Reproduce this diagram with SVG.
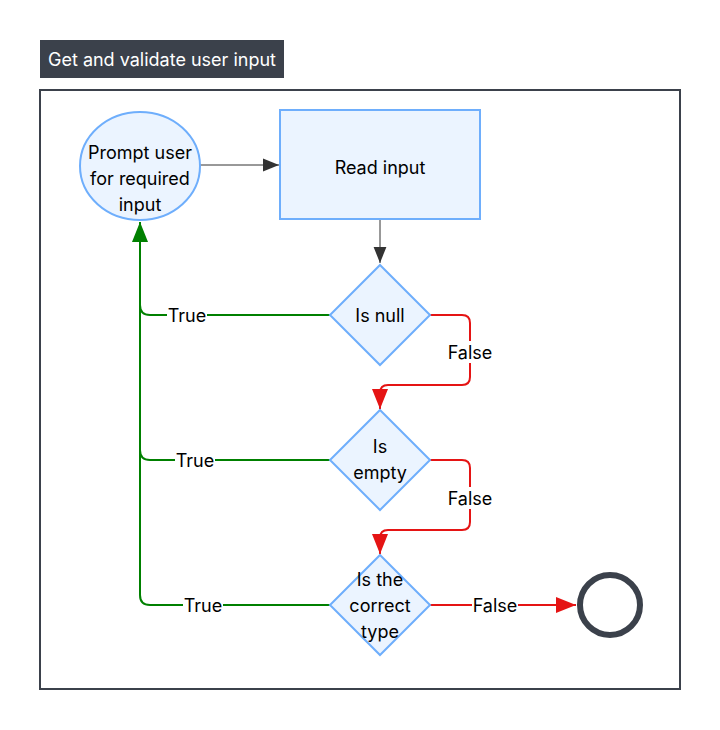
<svg xmlns="http://www.w3.org/2000/svg" width="720" height="730" viewBox="0 0 720 730">
<style>
text{font-family:Inter,"Noto Sans","Liberation Sans",sans-serif;font-size:18px;fill:#000;text-anchor:middle;dominant-baseline:central}
.node{fill:#ebf4ff;stroke:#6eaefc;stroke-width:2}
.g{fill:none;stroke:#008000;stroke-width:2}
.r{fill:none;stroke:#e51414;stroke-width:2}
.k{fill:none;stroke:#333;stroke-width:1}
.lb{fill:#fff}
</style>
<defs>
<marker id="ak" viewBox="0 0 10 10" refX="10" refY="5" markerWidth="16" markerHeight="16" markerUnits="userSpaceOnUse" orient="auto"><path d="M0,1 L10,5 L0,9 z" fill="#333"/></marker>
<marker id="ag" viewBox="0 0 10 10" refX="10" refY="5" markerWidth="10" markerHeight="10" markerUnits="strokeWidth" orient="auto"><path d="M0,1 L10,5 L0,9 z" fill="#008000"/></marker>
<marker id="ar" viewBox="0 0 10 10" refX="10" refY="5" markerWidth="10" markerHeight="10" markerUnits="strokeWidth" orient="auto"><path d="M0,1 L10,5 L0,9 z" fill="#e51414"/></marker>
</defs>
<rect width="720" height="730" fill="#fff"/>
<g id="title">
<rect x="40" y="40" width="244" height="38" fill="#3b414b"/>
<text x="162" y="59" style="fill:#fff">Get and validate user input</text>
</g>
<g id="container">
<rect x="40" y="90" width="640" height="599" fill="none" stroke="#3b414b" stroke-width="2"/>
</g>
<g id="connectors">
<path class="k" d="M200,165 L279,165" marker-end="url(#ak)"/>
<path class="k" d="M380,220 L380,263" marker-end="url(#ak)"/>
<path class="g" d="M330,315 L150,315 Q140,315 140,305"/>
<path class="g" d="M330,460 L150,460 Q140,460 140,450"/>
<path class="g" d="M330,605 L150,605 Q140,605 140,595 L140,222" marker-end="url(#ag)"/>
<path class="r" d="M430,315 L462,315 Q470,315 470,323 L470,377 Q470,385 462,385 L388,385 Q380,385 380,393 L380,409" marker-end="url(#ar)"/>
<path class="r" d="M430,460 L462,460 Q470,460 470,468 L470,522 Q470,530 462,530 L388,530 Q380,530 380,538 L380,554" marker-end="url(#ar)"/>
<path class="r" d="M430,605 L576,605" marker-end="url(#ar)"/>
<rect class="lb" x="167" y="304" width="40" height="22"/>
<text x="187" y="315">True</text>
<rect class="lb" x="175" y="449" width="40" height="22"/>
<text x="195" y="460">True</text>
<rect class="lb" x="183" y="594" width="40" height="22"/>
<text x="203" y="605">True</text>
<rect class="lb" x="447" y="341" width="46" height="22"/>
<text x="470" y="352">False</text>
<rect class="lb" x="447" y="487" width="46" height="22"/>
<text x="470" y="498">False</text>
<rect class="lb" x="472" y="594" width="46" height="22"/>
<text x="495" y="605">False</text>
</g>
<g id="prompt">
<ellipse class="node" cx="140" cy="166" rx="60" ry="54"/>
<text x="140" y="152">Prompt user</text>
<text x="140" y="178">for required</text>
<text x="140" y="204">input</text>
</g>
<g id="read">
<rect class="node" x="280" y="110" width="200" height="109"/>
<text x="380" y="167">Read input</text>
</g>
<g id="isnull">
<path class="node" d="M380,265 L430,315 L380,365 L330,315 z"/>
<text x="380" y="315">Is null</text>
</g>
<g id="isempty">
<path class="node" d="M380,410 L430,460 L380,510 L330,460 z"/>
<text x="380" y="446">Is</text>
<text x="380" y="472">empty</text>
</g>
<g id="istype">
<path class="node" d="M380,555 L430,605 L380,655 L330,605 z"/>
<text x="380" y="579">Is the</text>
<text x="380" y="605">correct</text>
<text x="380" y="631">type</text>
</g>
<g id="end">
<circle cx="610" cy="605" r="30" fill="#fff" stroke="#3b414b" stroke-width="6"/>
</g>
</svg>
